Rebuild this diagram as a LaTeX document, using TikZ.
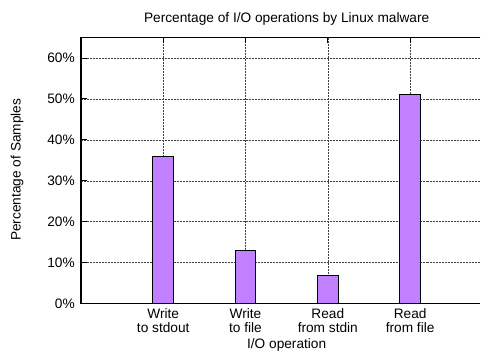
\documentclass[tikz,border=0pt]{standalone}
\usepackage{fontspec}
\setmainfont{Liberation Sans}
\usepackage{tikz}
\usetikzlibrary{positioning}

\definecolor{barpurple}{RGB}{192,128,255}

\begin{document}
\begin{tikzpicture}
			[x=1pt, y=1pt,
			 font=\fontsize{13.7pt}{13.6pt}\selectfont,
			 gridline/.style={densely dotted, line width=0.5pt, black!75},
			 border/.style={line width=1.2pt, black},
			 ticks/.style={line width=0.8pt, black},
			 bar/.style={draw=black, line width=0.9pt, fill=barpurple},
			 ticklabel/.style={anchor=east, inner sep=0pt},
			 catlabel/.style={anchor=north, align=center, inner sep=0pt}]
          	\fill[white] (0,0) rectangle (481,354);

          	\node (title) at (287,335) {Percentage of I/O operations by Linux malware};
          	\node[rotate=90] (ylab) at (17,184) {Percentage of Samples};
          	\node (xlab) at (287,9) {I/O operation};

          	\begin{scope}[shift={(81pt,50pt)}, x=82.4pt, y=4.1pt]
          	% grid, cut at the right edge of the page
          	\foreach \p in {10,20,...,60}
          		\draw[gridline] (0,\p) -- (4.854,\p);
          	\foreach \c in {1,...,4}
          		\draw[gridline] (\c,0) -- (\c,65);
          	% ticks
          	\foreach \p in {0,10,...,60} {
          		\draw[ticks] (0,\p) -- ++(6pt,0);
          		\node[ticklabel] (yt\p) at ([xshift=-6pt]0,\p) {\p\%};
          	}
          	\foreach \c in {1,...,4} {
          		\draw[ticks] (\c,0) -- ++(0,6pt);
          		\draw[ticks] (\c,65) -- ++(0,-6pt);
          	}
          	% bars
          	\draw[bar] (0.875,0) rectangle (1.125,36);
          	\draw[bar] (1.875,0) rectangle (2.125,13);
          	\draw[bar] (2.875,0) rectangle (3.125,7);
          	\draw[bar] (3.875,0) rectangle (4.125,51);
          	% frame
          	\draw[border] (4.854,65) -- (0,65) -- (0,0) -- (4.854,0);
          	% category labels
          	\node[catlabel] (c1) at ([yshift=-5pt]1,0) {Write\\to stdout};
          	\node[catlabel] (c2) at ([yshift=-5pt]2,0) {Write\\to file};
          	\node[catlabel] (c3) at ([yshift=-5pt]3,0) {Read\\from stdin};
          	\node[catlabel] (c4) at ([yshift=-5pt]4,0) {Read\\from file};
          	\end{scope}
          	\useasboundingbox (0,0) rectangle (481,354);
			\end{tikzpicture}
\end{document}
